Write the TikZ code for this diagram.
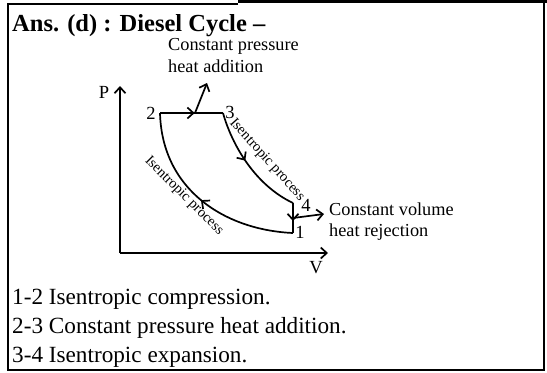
\documentclass[tikz,border=0pt]{standalone}
\usepackage{fontspec}
\setmainfont{Liberation Serif}
\usetikzlibrary{arrows.meta,decorations.markings}

\begin{document}
\begin{tikzpicture}[x=1bp,y=-1bp,
    midarrow/.style={postaction={decorate,decoration={markings,
      mark=at position #1 with {\arrow{Straight Barb[length=6bp,width=11bp]}}}}}]
	\tikzstyle{frame}=[draw=black,line width=1.2bp]
	\tikzstyle{curve}=[draw=black,line width=1.7bp,line join=round]
	\tikzstyle{headarrow}=[-{Straight Barb[length=6bp,width=11bp]}]
	\tikzstyle{big}=[inner sep=0pt,anchor=base west,font=\fontsize{23.2bp}{27bp}\selectfont]
	\tikzstyle{small}=[inner sep=0pt,anchor=base west,font=\fontsize{18.3bp}{22bp}\selectfont]
	\tikzstyle{pt}=[inner sep=0pt,font=\fontsize{18.5bp}{22bp}\selectfont]
	\tikzstyle{along}=[inner sep=0pt,font=\fontsize{14.5bp}{18bp}\selectfont]

	\useasboundingbox (0,0) rectangle (547,372);

	\path[frame] (238,4) -- (8,4) -- (8,370) -- (544,370) -- (544,2);
	\path[draw=black,line width=3bp] (238,1.5) -- (547,1.5);

	\node [big,font=\fontsize{24.5bp}{28bp}\selectfont\bfseries] (title) at (12,31) {Ans. (d) : Diesel Cycle --};

	\coordinate (o) at (120,253);
	\coordinate (ptop) at (120,86);
	\coordinate (vend) at (328,253);
	\coordinate (c1) at (293,233);
	\coordinate (c2) at (160,113);
	\coordinate (c3) at (223,113);
	\coordinate (c4) at (293,203);
	\coordinate (qin) at (195,113);
	\coordinate (qinend) at (207,83);
	\coordinate (qout) at (293,218);
	\coordinate (qoutend) at (324,214);

	\path[curve,headarrow] (o) -- (ptop);
	\path[curve,headarrow] (o) -- (vend);

	\node [pt] (lp) at (104,92) {P};
	\node [pt] (lv) at (316,268) {V};
	\node [pt] (l1) at (300,232) {1};
	\node [pt] (l2) at (151,113) {2};
	\node [pt] (l3) at (230,112) {3};
	\node [pt] (l4) at (306,205) {4};

	\path[curve,midarrow=0.55] (c2) -- (c3);
	\path[curve,midarrow=0.45] (c3) .. controls (232,145) and (255,185) .. (c4);
	\path[curve,midarrow=0.6] (c4) -- (c1);
	\path[curve,midarrow=0.5] (c1) .. controls (225,230) and (162,190) .. (c2);

	\path[curve,headarrow] (qin) -- (qinend);
	\path[curve,headarrow] (qout) -- (qoutend);

	\node [along,rotate=-48] (isen34) at (267,160) {Isentropic process};
	\node [along,rotate=-45] (isen12) at (184,196) {Isentropic process};

	\node [small] (cp1) at (168,50) {Constant pressure};
	\node [small] (cp2) at (168,72) {heat addition};
	\node [small] (cv1) at (329,215) {Constant volume};
	\node [small] (cv2) at (329,236) {heat rejection};

	\node [big] (s12) at (12,304) {1-2 Isentropic compression.};
	\node [big] (s23) at (12,333) {2-3 Constant pressure heat addition.};
	\node [big] (s34) at (12,362) {3-4 Isentropic expansion.};
\end{tikzpicture}
\end{document}
